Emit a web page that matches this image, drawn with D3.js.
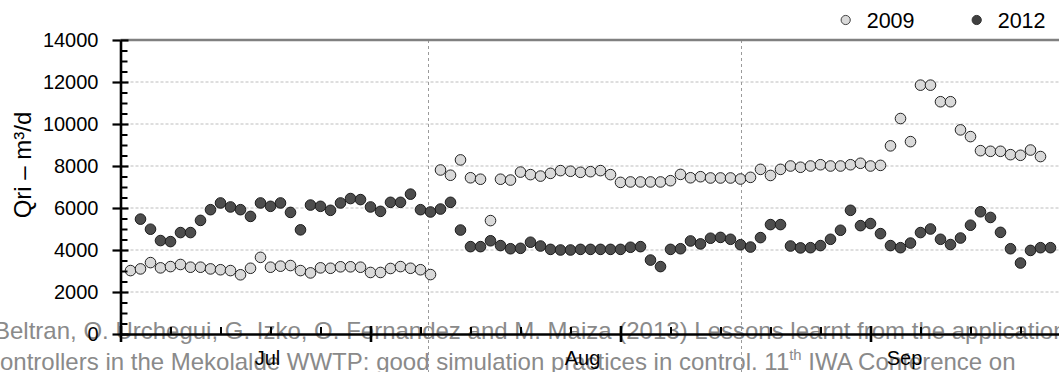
<!DOCTYPE html>
<html>
<head>
<meta charset="utf-8">
<script src="https://cdn.jsdelivr.net/npm/d3@7"></script>
<style>
  html, body { margin: 0; padding: 0; background: #fff; }
  svg { display: block; font-family: "Liberation Sans", Arial, sans-serif; }
</style>
</head>
<body>
<svg id="chart" width="1059" height="372"></svg>
<script>
// Daily internal recirculation flow Qri (m3/d), July–September
// Day numbers count from 30 June (= day 0).
const firstDay2009 = 1;
const q2009 = [
  3020, 3100, 3400, 3150, 3210, 3310, 3180, 3180, 3100, 3060,
  3020, 2820, 3130, 3650, 3180, 3230, 3260, 3020, 2910, 3150,
  3130, 3200, 3200, 3180, 2930, 2930, 3120, 3210, 3130, 3060,
  2830,
  7810, 7560, 8290, 7440, 7370, 5400, 7370, 7330, 7710, 7590,
  7520, 7650, 7780, 7750, 7700, 7730, 7780, 7590, 7220, 7240,
  7240, 7240, 7240, 7300, 7600, 7440, 7490, 7430, 7430, 7430,
  7380,
  7460, 7840, 7550, 7840, 8000, 7940, 8000, 8060, 8000, 8000,
  8060, 8130, 8000, 8030, 8960, 10260, 9160, 11850, 11850, 11060,
  11060, 9720, 9400, 8730, 8700, 8700, 8540, 8510, 8760, 8450
];

const firstDay2012 = 2;
const q2012 = [
  5470, 4990, 4450, 4400, 4830, 4830, 5410, 5920, 6240, 6050,
  5920, 5600, 6240, 6080, 6240, 5790, 4960, 6140, 6080, 5890,
  6240, 6450, 6400, 6050, 5840, 6270, 6270, 6660, 5920, 5810,
  5950, 6270, 4950, 4160, 4160, 4440, 4210, 4060, 4080, 4370,
  4190, 4030, 4000, 4000, 4030, 4030, 4030, 4030, 4030, 4130,
  4160, 3520, 3210, 4030, 4060, 4430, 4290, 4560, 4600, 4510,
  4250,
  4140, 4590, 5210, 5210, 4190, 4100, 4110, 4210, 4510, 4940,
  5890, 5160, 5260, 4780, 4210, 4110, 4330, 4830, 5000, 4510,
  4260, 4570, 5180, 5820, 5550, 4840, 4060, 3380, 3980, 4110,
  4110
];

const seriesNames = ["2009", "2012"];
const yTicks = [0, 2000, 4000, 6000, 8000, 10000, 12000, 14000];
const yMinorStep = 500;
const xMajorDays = [0, 25, 50, 75];
const xMinorStep = 5;
const monthLabels = ["Jul", "Aug", "Sep"];
const monthCenters = [14.7, 46.2, 78.4];
const monthBreaks = [30.8, 62.1];
const yTitle = "Qri \u2013 m\u00B3/d";
const citeLine1 = "Beltran, O. Urchegui, G. Izko, O. Fernandez and M. Maiza (2013) Lessons learnt from the application";
const citeLine2a = "controllers in the Mekolalde WWTP: good simulation practices in control. 11";
const citeLine2sup = "th";
const citeLine2b = " IWA Conference on";

const svg = d3.select("#chart");
const W = 1059, H = 372;

const x = d3.scaleLinear().domain([0, 93.85]).range([120.5, W]);
const y = d3.scaleLinear().domain([0, 14000]).range([334, 40]);

svg.append("rect").attr("width", W).attr("height", H).attr("fill", "#fff");

// Caption lines running under the axis
const citeSize = 24;
svg.append("text")
  .attr("x", -6).attr("y", 338.5)
  .attr("fill", "#8a8a8a").attr("font-size", citeSize)
  .text(citeLine1);

const cite2 = svg.append("text")
  .attr("x", -12).attr("y", 369.5)
  .attr("fill", "#8a8a8a").attr("font-size", citeSize);
cite2.append("tspan").text(citeLine2a);
cite2.append("tspan").attr("font-size", citeSize * 0.62).attr("dy", -citeSize * 0.38).text(citeLine2sup);
cite2.append("tspan").attr("dy", citeSize * 0.38).text(citeLine2b);

// Horizontal gridlines
svg.append("g")
  .selectAll("line")
  .data(yTicks.filter(v => v > 0 && v < 14000))
  .join("line")
  .attr("x1", x(0)).attr("x2", W)
  .attr("y1", d => y(d)).attr("y2", d => y(d))
  .attr("stroke", "#bdbdbd").attr("stroke-width", 1)
  .attr("stroke-dasharray", "3,2");

// Month separators
svg.append("g")
  .selectAll("line")
  .data(monthBreaks)
  .join("line")
  .attr("x1", d => x(d)).attr("x2", d => x(d))
  .attr("y1", y(14000)).attr("y2", H)
  .attr("stroke", "#9a9a9a").attr("stroke-width", 1)
  .attr("stroke-dasharray", "3,3");

// Top border of the plot area
svg.append("line")
  .attr("x1", x(0)).attr("x2", W)
  .attr("y1", y(14000)).attr("y2", y(14000))
  .attr("stroke", "#808080").attr("stroke-width", 2.6);

// Data points
const pts2009 = q2009.map((v, i) => ({ day: firstDay2009 + i, v }));
const pts2012 = q2012.map((v, i) => ({ day: firstDay2012 + i, v }));

svg.append("g")
  .selectAll("circle")
  .data(pts2009)
  .join("circle")
  .attr("cx", d => x(d.day)).attr("cy", d => y(d.v))
  .attr("r", 5.3)
  .attr("fill", "#d9d9d9").attr("stroke", "#222").attr("stroke-width", 1);

svg.append("g")
  .selectAll("circle")
  .data(pts2012)
  .join("circle")
  .attr("cx", d => x(d.day)).attr("cy", d => y(d.v))
  .attr("r", 5.3)
  .attr("fill", "#4d4d4d").attr("stroke", "#1a1a1a").attr("stroke-width", 1);

// Y axis: labelled major ticks outside, inner halves and minor ticks inside
const yMinor = d3.range(0, 14000 + 1, yMinorStep).filter(v => v % 2000 !== 0);

const gY = svg.append("g")
  .attr("transform", `translate(${x(0)},0)`)
  .call(d3.axisLeft(y).tickValues(yTicks).tickSize(8).tickSizeOuter(0)
    .tickPadding(14).tickFormat(d3.format("d")));
gY.select(".domain").attr("stroke", "#000").attr("stroke-width", 2.6);
gY.selectAll(".tick line").attr("stroke", "#000").attr("stroke-width", 2.2);
gY.selectAll(".tick text")
  .attr("font-family", "Liberation Sans, Arial, sans-serif")
  .attr("font-size", 20).attr("fill", "#000");

const gYin = svg.append("g")
  .attr("transform", `translate(${x(0)},0)`)
  .call(d3.axisRight(y).tickValues(yTicks).tickSize(8).tickSizeOuter(0).tickFormat(""));
gYin.select(".domain").remove();
gYin.selectAll(".tick line").attr("stroke", "#000").attr("stroke-width", 2.2);

const gYminor = svg.append("g")
  .attr("transform", `translate(${x(0)},0)`)
  .call(d3.axisRight(y).tickValues(yMinor).tickSize(7).tickSizeOuter(0).tickFormat(""));
gYminor.select(".domain").remove();
gYminor.selectAll(".tick line").attr("stroke", "#000").attr("stroke-width", 2);

// X axis
const xMinor = d3.range(0, 94, xMinorStep).filter(d => d % 25 !== 0);

const gX = svg.append("g")
  .attr("transform", `translate(0,${y(0)})`)
  .call(d3.axisBottom(x).tickValues(xMajorDays).tickSize(8).tickSizeOuter(0).tickFormat(""));
gX.select(".domain").attr("stroke", "#000").attr("stroke-width", 2.6);
gX.selectAll(".tick line").attr("stroke", "#000").attr("stroke-width", 2.6);

const gXin = svg.append("g")
  .attr("transform", `translate(0,${y(0)})`)
  .call(d3.axisTop(x).tickValues(xMajorDays).tickSize(8).tickSizeOuter(0).tickFormat(""));
gXin.select(".domain").remove();
gXin.selectAll(".tick line").attr("stroke", "#000").attr("stroke-width", 2.6);

const gXminor = svg.append("g")
  .attr("transform", `translate(0,${y(0)})`)
  .call(d3.axisTop(x).tickValues(xMinor).tickSize(7).tickSizeOuter(0).tickFormat(""));
gXminor.select(".domain").remove();
gXminor.selectAll(".tick line").attr("stroke", "#000").attr("stroke-width", 2);

// Month labels
svg.append("g")
  .selectAll("text")
  .data(monthLabels)
  .join("text")
  .attr("x", (d, i) => x(monthCenters[i]))
  .attr("y", 365)
  .attr("text-anchor", "middle")
  .attr("font-size", 20).attr("fill", "#000")
  .text(d => d);

// Y axis title
svg.append("text")
  .attr("transform", "translate(31,165) rotate(-90)")
  .attr("text-anchor", "middle")
  .attr("font-size", 24).attr("fill", "#000")
  .text(yTitle);

// Legend
const legend = [
  { name: seriesNames[0], fill: "#d9d9d9", stroke: "#444", cx: 845.7 },
  { name: seriesNames[1], fill: "#404040", stroke: "#333", cx: 976.7 }
];
const lg = svg.append("g");
lg.selectAll("circle")
  .data(legend)
  .join("circle")
  .attr("cx", d => d.cx).attr("cy", 20).attr("r", 4.6)
  .attr("fill", d => d.fill).attr("stroke", d => d.stroke).attr("stroke-width", 1);
lg.selectAll("text")
  .data(legend)
  .join("text")
  .attr("x", d => d.cx + 21).attr("y", 28)
  .attr("font-size", 21.5).attr("fill", "#000")
  .text(d => d.name);
</script>
</body>
</html>
